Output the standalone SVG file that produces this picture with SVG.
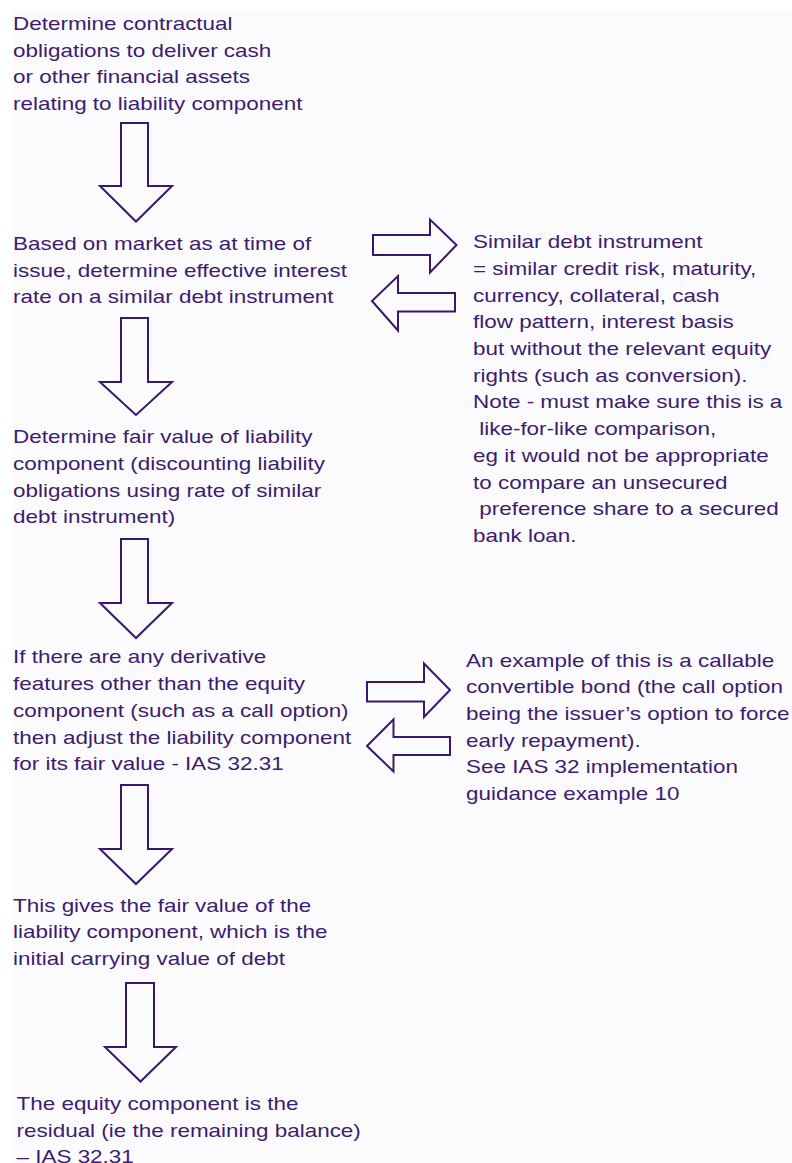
<svg xmlns="http://www.w3.org/2000/svg" width="792" height="1163" viewBox="0 0 792 1163">
<defs>
<style>
.t{font-family:"Liberation Sans",Arial,sans-serif;font-size:18.6px;fill:#3d1c6e}
.a{fill:none;stroke:#3a1868;stroke-width:2;stroke-linejoin:miter}
</style>
</defs>
<rect width="792" height="1163" fill="#ffffff"/>
<rect x="13" y="10" width="779" height="1153" fill="#fbfbfd"/>
<g id="n1"><text class="t" transform="matrix(1.207 0 0 1 13 0)" x="0" y="30">Determine contractual<tspan x="0" dy="26.7">obligations to deliver cash</tspan><tspan x="0" dy="26.7">or other financial assets</tspan><tspan x="0" dy="26.7">relating to liability component</tspan></text></g>
<g id="n2"><text class="t" transform="matrix(1.207 0 0 1 13 0)" x="0" y="250">Based on market as at time of<tspan x="0" dy="26.7">issue, determine effective interest</tspan><tspan x="0" dy="26.7">rate on a similar debt instrument</tspan></text></g>
<g id="n3"><text class="t" transform="matrix(1.207 0 0 1 473 0)" x="0" y="248.3">Similar debt instrument<tspan x="0" dy="26.7">= similar credit risk, maturity,</tspan><tspan x="0" dy="26.7">currency, collateral, cash</tspan><tspan x="0" dy="26.7">flow pattern, interest basis</tspan><tspan x="0" dy="26.7">but without the relevant equity</tspan><tspan x="0" dy="26.7">rights (such as conversion).</tspan><tspan x="0" dy="26.7">Note - must make sure this is a</tspan><tspan x="0" dy="26.7"> like-for-like comparison,</tspan><tspan x="0" dy="26.7">eg it would not be appropriate</tspan><tspan x="0" dy="26.7">to compare an unsecured</tspan><tspan x="0" dy="26.7"> preference share to a secured</tspan><tspan x="0" dy="26.7">bank loan.</tspan></text></g>
<g id="n4"><text class="t" transform="matrix(1.207 0 0 1 13 0)" x="0" y="443.3">Determine fair value of liability<tspan x="0" dy="26.7">component (discounting liability</tspan><tspan x="0" dy="26.7">obligations using rate of similar</tspan><tspan x="0" dy="26.7">debt instrument)</tspan></text></g>
<g id="n5"><text class="t" transform="matrix(1.207 0 0 1 13 0)" x="0" y="663.5">If there are any derivative<tspan x="0" dy="26.7">features other than the equity</tspan><tspan x="0" dy="26.7">component (such as a call option)</tspan><tspan x="0" dy="26.7">then adjust the liability component</tspan><tspan x="0" dy="26.7">for its fair value - IAS 32.31</tspan></text></g>
<g id="n6"><text class="t" transform="matrix(1.207 0 0 1 466 0)" x="0" y="666.7">An example of this is a callable<tspan x="0" dy="26.7">convertible bond (the call option</tspan><tspan x="0" dy="26.7">being the issuer’s option to force</tspan><tspan x="0" dy="26.7">early repayment).</tspan><tspan x="0" dy="26.7">See IAS 32 implementation</tspan><tspan x="0" dy="26.7">guidance example 10</tspan></text></g>
<g id="n7"><text class="t" transform="matrix(1.207 0 0 1 13 0)" x="0" y="911.7">This gives the fair value of the<tspan x="0" dy="26.7">liability component, which is the</tspan><tspan x="0" dy="26.7">initial carrying value of debt</tspan></text></g>
<g id="n8"><text class="t" transform="matrix(1.207 0 0 1 16.5 0)" x="0" y="1110">The equity component is the<tspan x="0" dy="26.7">residual (ie the remaining balance)</tspan><tspan x="0" dy="26.7">– IAS 32.31</tspan></text></g>
<g id="connectors">
<polygon class="a" points="121,123 148,123 148,186 172,186 136,221.5 100,186 121,186"/>
<polygon class="a" points="121,318 148,318 148,382 172,382 136,415 100,382 121,382"/>
<polygon class="a" points="121,539 148,539 148,603 172,603 136,638 100,603 121,603"/>
<polygon class="a" points="121,785 148,785 148,849 172,849 136,884 100,849 121,849"/>
<polygon class="a" points="126,983 154,983 154,1047 176,1047 140.5,1081.5 105,1047 126,1047"/>
<polygon class="a" points="373,235 430,235 430,219.5 456.5,245 430,272.5 430,255 373,255"/>
<polygon class="a" points="455,293 398,293 398,276 372,301 398,330.5 398,311.5 455,311.5"/>
<polygon class="a" points="367,682 424,682 424,663.5 450,690 424,717 424,701.5 367,701.5"/>
<polygon class="a" points="450,737 393.5,737 393.5,719.5 367,746 393.5,771.5 393.5,755 450,755"/>
</g>
</svg>
